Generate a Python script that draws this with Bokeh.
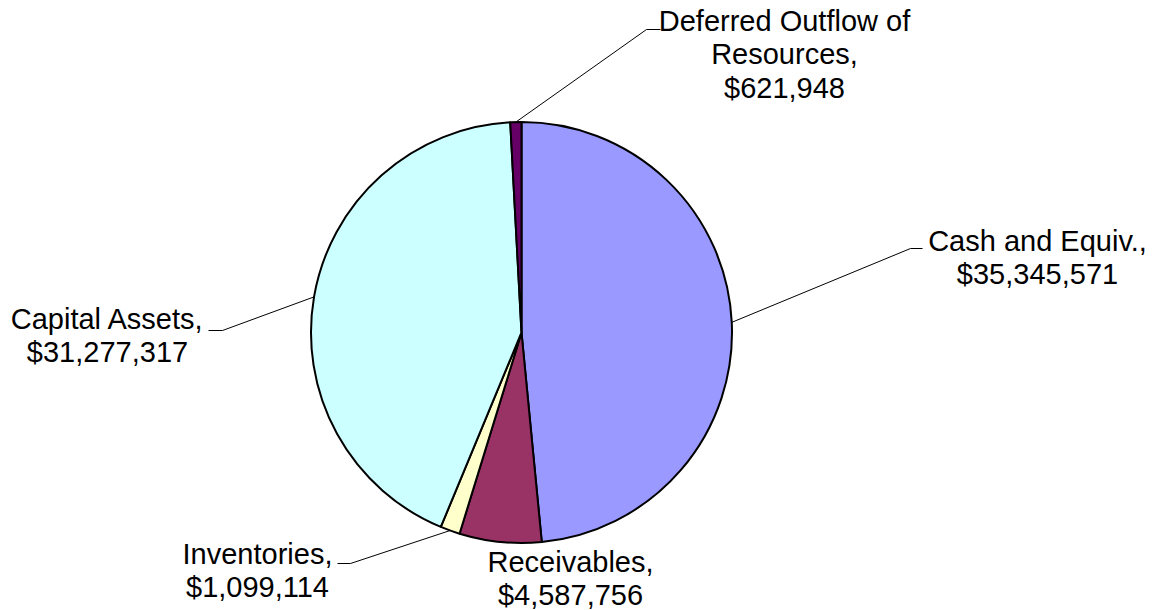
import math
from bokeh.plotting import figure
from bokeh.models import Range1d, ColumnDataSource
from bokeh.core.properties import value
from bokeh.embed import file_html
from bokeh.resources import INLINE

# ---- data ----
categories = ["Cash and Equiv.", "Receivables", "Inventories", "Capital Assets",
              "Deferred Outflow of Resources"]
amounts = [35345571, 4587756, 1099114, 31277317, 621948]
colors = ["#9999FF", "#993366", "#FFFFCC", "#CCFFFF", "#660066"]
label_name_lines = [["Cash and Equiv.,"], ["Receivables,"], ["Inventories,"],
                    ["Capital Assets,"], ["Deferred Outflow of", "Resources,"]]

# ---- layout (pixel coords, y down) ----
W, H = 1154, 610
CX, CY, R = 521, 332, 210.5
LINE_H = 33.5
# label center x, first line middle y
label_pos = [(1037, 240), (570, 561), (257, 553), (107, 318), (784, 20)]
# leader: (elbow x, elbow y, end x) or None
leaders = [(910, 248, 922), None, (350, 563, 337), (222, 330, 208), (646, 29, 660)]


def fy(y):
    return H - y


p = figure(width=W, height=H, x_range=Range1d(0, W), y_range=Range1d(0, H),
           output_backend="svg", toolbar_location=None,
           x_axis_location=None, y_axis_location=None, min_border=0,
           outline_line_color=None, background_fill_color="white",
           border_fill_color="white")
p.grid.visible = False

total = float(sum(amounts))
starts, ends, mids = [], [], []
cum = 0.0
for a in amounts:
    f0 = cum / total
    cum += a
    f1 = cum / total
    starts.append(math.pi / 2 - 2 * math.pi * f0)
    ends.append(math.pi / 2 - 2 * math.pi * f1)
    mids.append((f0 + f1) / 2)

src = ColumnDataSource(dict(x=[CX] * len(amounts), y=[fy(CY)] * len(amounts),
                            start=starts, end=ends, color=colors))
p.wedge(x="x", y="y", radius=R, start_angle="start", end_angle="end",
        direction="clock", fill_color="color", line_color="black",
        line_width=2, source=src)

# leader lines
xs, ys = [], []
for i, ld in enumerate(leaders):
    if ld is None:
        continue
    ang = 2 * math.pi * mids[i]
    ex = CX + R * math.sin(ang)
    ey = CY - R * math.cos(ang)
    xs.append([ex, ld[0], ld[2]])
    ys.append([fy(ey), fy(ld[1]), fy(ld[1])])
p.multi_line(xs=xs, ys=ys, line_color="black", line_width=1)

# labels
tx, ty, tt = [], [], []
for i, (cxl, my) in enumerate(label_pos):
    lines = label_name_lines[i] + ["${:,}".format(amounts[i])]
    for k, ln in enumerate(lines):
        tx.append(cxl)
        ty.append(fy(my + k * LINE_H))
        tt.append(ln)
p.text(x=tx, y=ty, text=tt, text_font=value("Liberation Sans"),
       text_font_size="29px", text_align="center", text_baseline="middle",
       text_color="black")

open("out.html", "w").write(file_html(p, INLINE))
